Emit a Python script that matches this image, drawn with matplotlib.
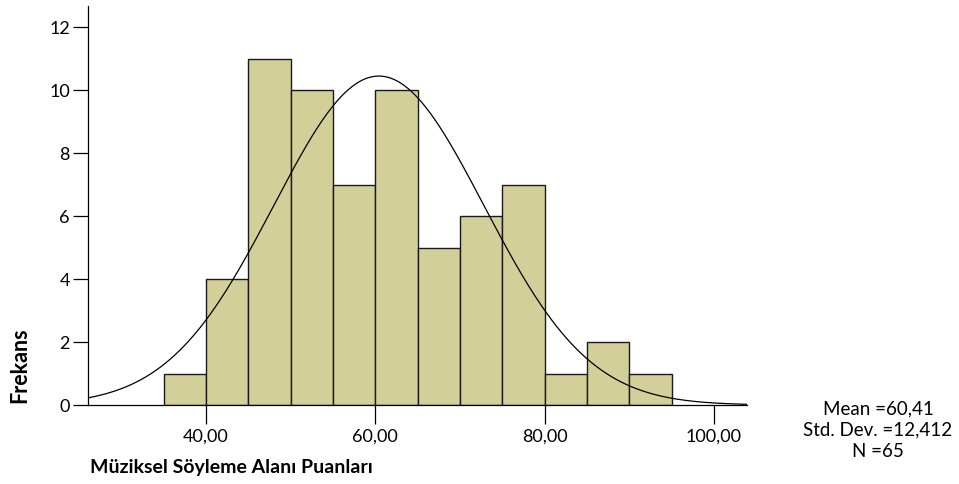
import numpy as np
import matplotlib
matplotlib.use('Agg')
import matplotlib.pyplot as plt

plt.rcParams['font.family'] = ['Lato', 'DejaVu Sans']

# histogram bins (left edges, width 5) and counts
bin_edges = [35, 40, 45, 50, 55, 60, 65, 70, 75, 80, 85, 90, 95]
counts = [1, 4, 11, 10, 7, 10, 5, 6, 7, 1, 2, 1]
mean, sd, n = 60.41, 12.412, 65
xticks = [40, 60, 80, 100]
xtick_labels = ['40,00', '60,00', '80,00', '100,00']
yticks = [0, 2, 4, 6, 8, 10, 12]

fig = plt.figure(figsize=(9.59, 4.84), dpi=100)
ax = fig.add_axes([0.0918, 0.1632, 0.6868, 0.8244])

edges = np.array(bin_edges, dtype=float)
widths = np.diff(edges)
ax.bar(edges[:-1], counts, width=widths, align='edge', color='#d3cf99',
       edgecolor='#1a1a1a', linewidth=1.0, zorder=2)

xmin, xmax = 26.06, 103.86
xs = np.linspace(xmin, xmax, 400)
bw = widths[0]
pdf = n * bw / (sd * np.sqrt(2 * np.pi)) * np.exp(-0.5 * ((xs - mean) / sd) ** 2)
ax.plot(xs, pdf, color='black', linewidth=0.9, zorder=3)

ax.set_xlim(xmin, xmax)
ax.set_ylim(0, 12.67)
ax.set_xticks(xticks)
ax.set_xticklabels(xtick_labels)
ax.set_yticks(yticks)
ax.tick_params(axis='x', direction='out', length=14, width=0.9, labelsize=13, pad=3)
ax.tick_params(axis='y', direction='out', length=11, width=0.9, labelsize=13, pad=2)
for s in ['top', 'right']:
    ax.spines[s].set_visible(False)
for s in ['left', 'bottom']:
    ax.spines[s].set_linewidth(0.9)

fig.text(19.5 / 959, 1 - 365 / 484, 'Frekans', rotation=90, ha='center', va='center',
         fontsize=15.5, fontweight='bold')
fig.text(90 / 959, 1 - 467 / 484, 'Müziksel Söyleme Alanı Puanları', ha='left', va='center',
         fontsize=14, fontweight='bold')
fig.text(878 / 959, 1 - 430 / 484, 'Mean =60,41\nStd. Dev. =12,412\nN =65',
         ha='center', va='center', fontsize=13.5, linespacing=1.3)

fig.savefig('out.png', dpi=100)
